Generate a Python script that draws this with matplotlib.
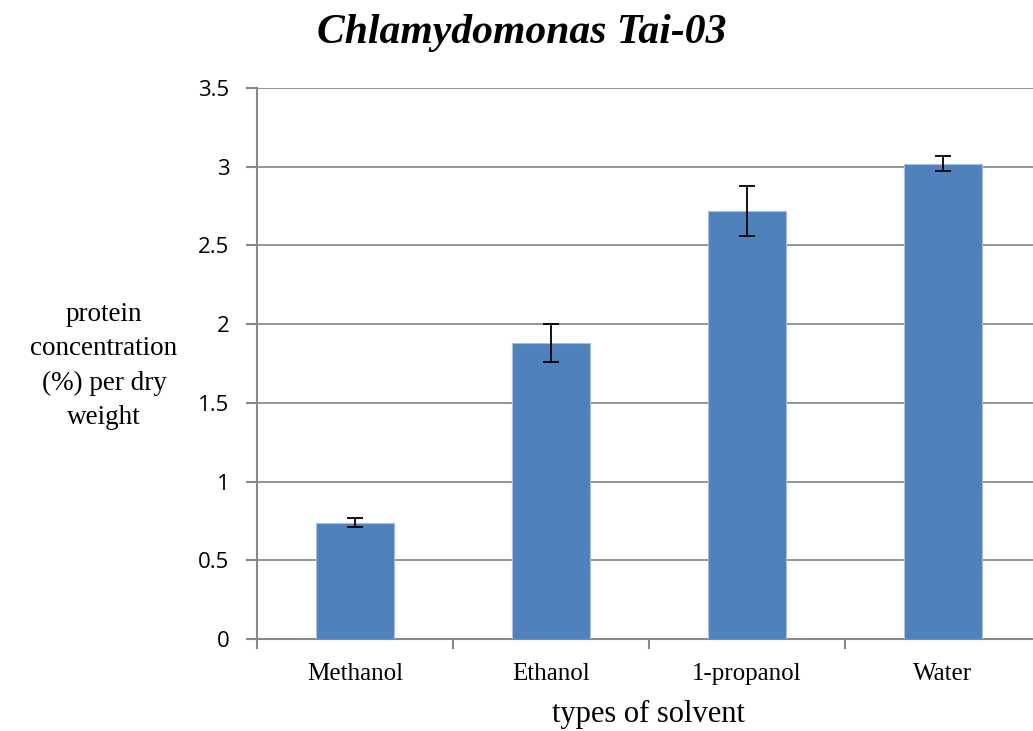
import matplotlib
matplotlib.use("Agg")
import matplotlib.pyplot as plt

solvents = ["Methanol", "Ethanol", "1-propanol", "Water"]
protein = [0.74, 1.88, 2.72, 3.02]
errors = [0.03, 0.12, 0.16, 0.05]
yticks = [0, 0.5, 1, 1.5, 2, 2.5, 3, 3.5]
ytick_labels = ["0", "0.5", "1", "1.5", "2", "2.5", "3", "3.5"]

serif = "Liberation Serif"
sans = "Open Sans"
axis_grey = "#888888"

fig = plt.figure(figsize=(10.33, 7.31), dpi=100)
ax = fig.add_axes([257 / 1033, 1 - 639 / 731, 784 / 1033, 551 / 731])

x = range(len(solvents))
ax.bar(x, protein, width=0.4, color="#4f81bd", edgecolor="#a7bfdf", linewidth=0.8, zorder=3)
ax.errorbar(x, protein, yerr=errors, fmt="none", ecolor="black", elinewidth=1.3,
            capsize=6, capthick=1.3, zorder=4)

ax.set_xlim(-0.5, 3.5)
ax.set_ylim(0, 3.5)
ax.set_yticks(yticks)
ax.set_yticklabels(ytick_labels, fontfamily=sans, fontsize=16)
ax.set_xticks(list(x))
ax.set_xticklabels(solvents, fontfamily=serif, fontsize=18)
ax.tick_params(axis="x", length=0, pad=17)
ax.set_xticks([-0.5, 0.5, 1.5, 2.5, 3.5], minor=True)
ax.tick_params(axis="x", which="minor", length=7, color=axis_grey, width=1.5, direction="out")
ax.tick_params(axis="y", length=8, color=axis_grey, width=1.5, direction="out", pad=12)

ax.grid(axis="y", color="#8c8c8c", linewidth=1.3, zorder=0)
for side in ["top", "right"]:
    ax.spines[side].set_visible(False)
ax.spines["left"].set_color(axis_grey)
ax.spines["left"].set_linewidth(1.5)
ax.spines["bottom"].set_color(axis_grey)
ax.spines["bottom"].set_linewidth(1.5)

fig.text(522 / 1033, 1 - 33 / 731, "Chlamydomonas Tai-03", fontfamily=serif, fontsize=30,
         fontweight="bold", fontstyle="italic", ha="center", va="center")
fig.text(104 / 1033, 1 - 366 / 731, "protein\nconcentration\n(%) per dry\nweight",
         fontfamily=serif, fontsize=19.5, ha="center", va="center", linespacing=1.5)
fig.text(648 / 1033, 1 - 714 / 731, "types of solvent", fontfamily=serif, fontsize=22,
         ha="center", va="center")

fig.savefig("out.png", dpi=100)
